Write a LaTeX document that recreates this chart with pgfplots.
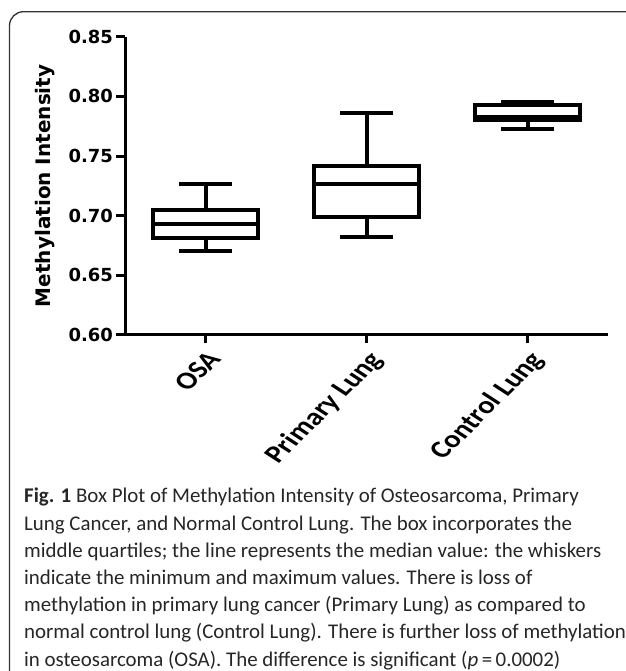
\documentclass[border=0pt]{standalone}
\usepackage{pgfplots}
\pgfplotsset{compat=1.18}
\usepgfplotslibrary{statistics}
\usepackage{fontspec}
\setmainfont{Carlito}
\newfontfamily\dejavu{DejaVu Sans}
\newfontfamily\capfont{Carlito}

\begin{document}
\begin{tikzpicture}
\useasboundingbox (0,0) rectangle (625pt,671pt);
\fill[white] (0,0) rectangle (625pt,671pt);
% frame round the figure (cut off at right and bottom)
\draw[line width=1.3pt, black!80, rounded corners=14pt]
  (9.5pt,-5pt) -- (9.5pt,659.3pt) -- (640pt,659.3pt);

\begin{axis}[
  at={(125pt,336pt)}, anchor=south west,
  scale only axis, width=483pt, height=298.3pt,
  xmin=-0.5, xmax=2.5, ymin=0.60, ymax=0.85,
  clip=false,
  axis lines=left,
  axis line style={-, line width=3pt},
  tick align=outside,
  major tick length=8.5pt,
  tick style={line width=3pt, black},
  xtick={0,1,2},
  xticklabels={OSA, Primary Lung, Control Lung},
  ytick={0.60,0.65,0.70,0.75,0.80,0.85},
  /pgf/number format/assume math mode=true,
  yticklabel style={/pgf/number format/fixed,
    /pgf/number format/fixed zerofill,
    /pgf/number format/precision=2,
    font=\dejavu\bfseries\fontsize{18}{20}\selectfont},
  xticklabel style={font=\capfont\bfseries\fontsize{24.5}{28}\selectfont,
    xscale=1.25, rotate=51, anchor=north east, inner sep=4pt},
  ylabel={Methylation Intensity},
  ylabel style={font=\dejavu\bfseries\fontsize{20}{24}\selectfont,
    at={(axis description cs:-0.1656,0.5)}, anchor=center},
  boxplot/draw direction=y,
  boxplot/box extend=0.65,
  boxplot/whisker extend=0.325,
]
\addplot[black, line width=4pt, line join=miter, boxplot prepared={
  draw position=0,
  lower whisker=0.6706, lower quartile=0.6817, median=0.6929,
  upper quartile=0.7049, upper whisker=0.7267}] coordinates {};
\addplot[black, line width=4pt, line join=miter, boxplot prepared={
  draw position=1,
  lower whisker=0.6824, lower quartile=0.6992, median=0.7263,
  upper quartile=0.7419, upper whisker=0.7858}] coordinates {};
\addplot[black, line width=4pt, line join=miter, boxplot prepared={
  draw position=2,
  lower whisker=0.7729, lower quartile=0.7800, median=0.7830,
  upper quartile=0.7925, upper whisker=0.7955}] coordinates {};
\end{axis}

\begin{scope}[every node/.style={anchor=base west, inner sep=0pt,
    font=\capfont\fontsize{20.9}{25}\selectfont, text=black!85}]
\node at (24pt,168pt) {\textbf{Fig. 1} Box Plot of Methylation Intensity of Osteosarcoma, Primary};
\node at (24pt,140.8pt) {Lung Cancer, and Normal Control Lung. The box incorporates the};
\node at (24pt,113.6pt) {middle quartiles; the line represents the median value: the whiskers};
\node at (24pt,86.4pt) {indicate the minimum and maximum values. There is loss of};
\node at (24pt,59.2pt) {methylation in primary lung cancer (Primary Lung) as compared to};
\node at (24pt,32pt) {normal control lung (Control Lung). There is further loss of methylation};
\node at (24pt,4.8pt) {in osteosarcoma (OSA). The difference is significant (\textit{p}\,=\,0.0002)};
\end{scope}
\end{tikzpicture}
\end{document}
